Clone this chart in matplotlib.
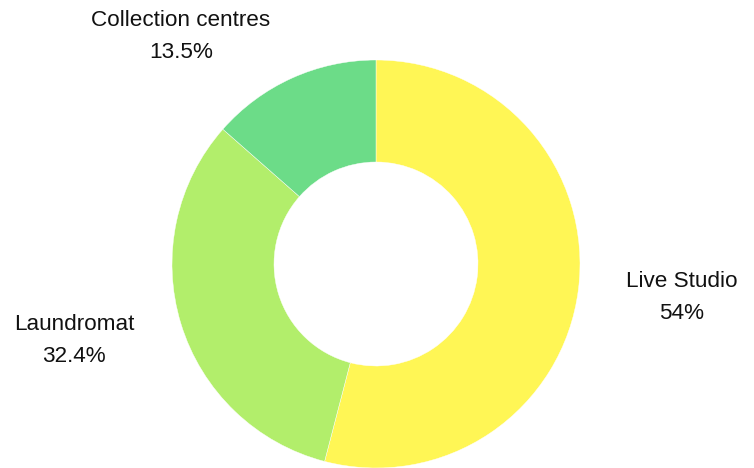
import matplotlib.pyplot as plt

# share of each source
labels = ['Live Studio', 'Laundromat', 'Collection centres']
shares = [54.0, 32.4, 13.5]
share_text = ['54%', '32.4%', '13.5%']

colors = ['#FFF655', '#B2EE6B', '#6CDC88']
# label centres in pie units (radius = 1)
label_pos = [(1.50, -0.165), (-1.48, -0.375), (-0.956, 1.115)]

plt.rcParams['font.family'] = ['Liberation Sans', 'DejaVu Sans']

fig = plt.figure(figsize=(7.54, 4.68), dpi=100)
ax = fig.add_axes([0, 0, 1, 1])

ax.pie(shares, colors=colors, startangle=90, counterclock=False,
       radius=1.0, wedgeprops=dict(width=0.5, edgecolor='white', linewidth=0.3))

for name, txt, (x, y) in zip(labels, share_text, label_pos):
    ax.text(x, y, f"{name}\n{txt}", ha='center', va='center',
            fontsize=16.2, linespacing=1.68, color='#111111')

# map pie units to pixels: 204 px per unit, centre at (376, 264)
scale = 204.0
ax.set_xlim(-376 / scale, (754 - 376) / scale)
ax.set_ylim(-(468 - 264) / scale, 264 / scale)
ax.set_aspect('auto')
ax.set_axis_off()

fig.savefig('out.png', dpi=100)
